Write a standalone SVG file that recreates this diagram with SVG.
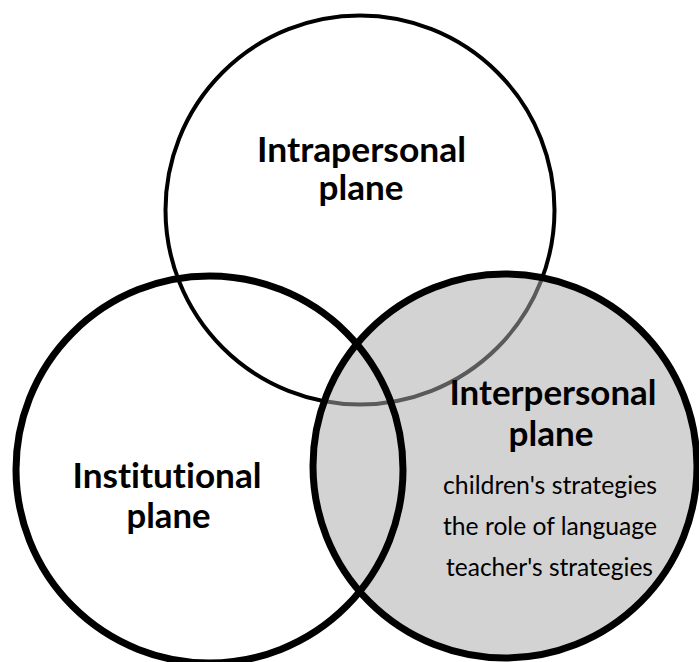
<svg xmlns="http://www.w3.org/2000/svg" width="699" height="662" viewBox="0 0 699 662">
<style>
.bg{fill:#ffffff}
.ring{fill:none;stroke:#000000}
.title{font-family:Lato,"Open Sans","Liberation Sans",sans-serif;font-weight:bold;font-size:34px;fill:#000000;text-anchor:middle;font-variant-ligatures:none;font-feature-settings:"liga" 0,"clig" 0}
.item{font-family:Lato,"Open Sans","Liberation Sans",sans-serif;font-size:25px;fill:#000000;text-anchor:middle;font-variant-ligatures:none;font-feature-settings:"liga" 0,"clig" 0}
</style>
<rect class="bg" x="0" y="0" width="699" height="662"/>
<g id="intrapersonal">
<circle class="ring" cx="360" cy="210" r="194.5" stroke-width="4"/>
<text class="title" x="361.5" y="162" textLength="209" lengthAdjust="spacingAndGlyphs">Intrapersonal</text>
<text class="title" x="361" y="200" textLength="85" lengthAdjust="spacingAndGlyphs">plane</text>
</g>
<g id="interpersonal-fill">
<circle cx="505" cy="466" r="192" fill="#ababab" fill-opacity="0.525"/>
</g>
<g id="institutional">
<circle class="ring" cx="209.5" cy="469.5" r="193.5" stroke-width="7"/>
<text class="title" x="167" y="488" textLength="189" lengthAdjust="spacingAndGlyphs">Institutional</text>
<text class="title" x="168.5" y="528" textLength="84" lengthAdjust="spacingAndGlyphs">plane</text>
</g>
<g id="interpersonal">
<circle class="ring" cx="505" cy="466" r="192" stroke-width="7"/>
<text class="title" x="553" y="405" textLength="207" lengthAdjust="spacingAndGlyphs">Interpersonal</text>
<text class="title" x="551" y="446" textLength="85" lengthAdjust="spacingAndGlyphs">plane</text>
<text class="item" x="550" y="494" textLength="214" lengthAdjust="spacingAndGlyphs">children's strategies</text>
<text class="item" x="550" y="535" textLength="214" lengthAdjust="spacingAndGlyphs">the role of language</text>
<text class="item" x="549.5" y="576" textLength="207" lengthAdjust="spacingAndGlyphs">teacher's strategies</text>
</g>
<g id="connectors"/>
</svg>
